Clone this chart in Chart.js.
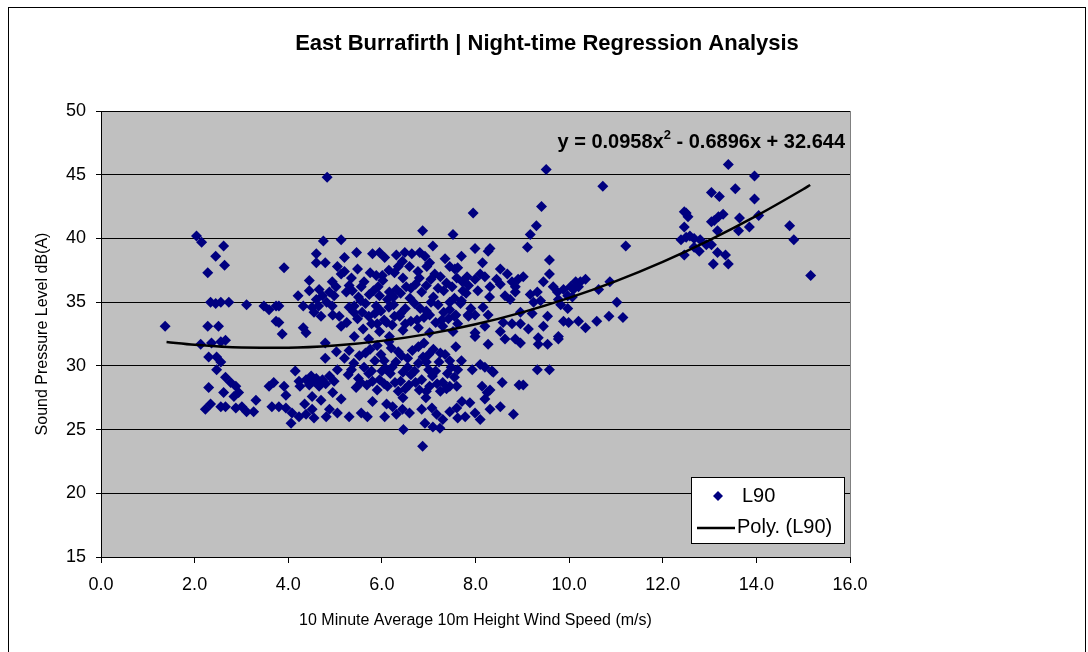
<!DOCTYPE html>
<html>
<head>
<meta charset="utf-8">
<script src="https://cdn.jsdelivr.net/npm/chart.js@4.4.1/dist/chart.umd.min.js"></script>
<style>
  html, body { margin: 0; padding: 0; background: #fff; }
  #wrap { width: 1088px; height: 652px; }
</style>
</head>
<body>
<div id="wrap"><canvas id="chart" width="1088" height="652"></canvas></div>
<script>
// [wind speed (m/s), L90 dB(A)]
const l90Readings = [
  [2.04,40.2],[2.15,39.7],[2.62,39.4],[2.45,38.6],[2.64,37.9],[2.28,37.3],
  [2.34,35.0],[2.45,34.9],[2.56,35.0],[2.73,35.0],[3.11,34.8],[3.48,34.7],[3.59,34.4],[3.74,34.7],
  [1.37,33.1],[2.28,33.1],[2.51,33.1],[3.74,33.5],
  [2.13,31.7],[2.36,31.8],[2.56,31.9],[2.66,32.0],
  [2.30,30.7],[2.47,30.7],[2.56,30.3],[2.47,29.7],
  [2.66,29.1],[2.77,28.7],[2.88,28.4],[2.94,27.9],[2.84,27.6],[2.30,28.3],[2.62,27.9],
  [2.23,26.6],[2.34,27.0],[2.56,26.8],[2.66,26.8],[2.88,26.7],[3.01,26.8],[3.11,26.4],[3.26,26.4],[3.31,27.3],
  [3.59,28.4],[3.69,28.7],[3.65,26.8],
  [4.83,44.8],[4.75,39.8],[5.13,39.9],[5.46,38.9],[5.80,38.8],[5.95,38.9],[6.06,38.5],[6.31,38.7],
  [4.60,38.8],[5.20,38.5],[3.91,37.7],[4.60,38.1],[4.79,38.1],[5.05,37.8],[5.13,37.2],[4.94,36.6],
  [4.45,36.7],[5.88,37.1],[6.01,37.1],[6.27,37.3],
  [4.21,35.5],[4.32,34.7],[4.66,36.0],[4.73,35.5],[4.60,35.2],[4.88,35.8],[4.98,35.5],
  [5.24,35.8],[5.37,35.9],[5.56,36.2],[5.73,35.6],[5.95,35.5],[6.16,35.8],[6.31,36.0],
  [4.51,34.6],[4.70,33.9],[4.94,34.7],[5.09,33.9],[5.13,33.1],
  [5.41,34.7],[5.58,34.2],[5.88,34.7],[6.10,33.4],[6.27,33.9],[5.78,33.3],
  [3.80,34.7],[3.80,33.4],[3.87,32.5],[4.32,33.0],[4.38,32.6],
  [5.41,32.3],[5.95,32.7],[6.16,32.3],[4.79,31.8],[5.03,31.1],[4.79,30.6],
  [5.05,29.7],[4.98,28.8],[4.88,29.2],
  [4.15,29.6],[4.23,28.8],[4.38,28.9],[4.49,29.2],[4.55,28.8],[4.66,28.4],[4.73,28.9],
  [3.91,28.4],[3.95,27.7],[4.51,27.6],[5.13,27.4],
  [3.80,26.8],[3.95,26.7],[4.08,26.3],[4.23,26.0],[4.38,26.2],[4.51,26.6],[4.55,25.9],[4.06,25.5],
  [4.81,26.0],[4.88,26.6],[5.05,26.3],[5.30,26.0],[5.56,26.3],[5.69,26.0],[6.06,26.0],[6.23,26.8],[6.31,26.2],
  [5.35,36.9],[5.62,36.6],[6.02,36.7],[6.45,36.9],[6.72,36.4],[7.05,36.8],[7.38,36.5],[7.72,36.6],
  [5.50,35.4],[5.82,35.9],[6.12,35.2],[6.40,35.7],[6.60,35.3],[6.85,35.8],[7.10,35.4],[7.32,35.9],[7.55,35.3],[7.80,35.7],
  [5.30,34.6],[5.65,34.9],[5.98,34.3],[6.25,34.8],[6.50,34.5],[6.70,34.9],[6.95,34.3],[7.20,34.8],[7.45,34.4],[7.68,34.9],
  [5.48,33.7],[5.72,33.9],[6.05,33.6],[6.38,33.9],[6.62,33.5],[6.90,33.8],[7.15,33.4],[7.42,33.7],[7.62,33.3],[7.85,33.9],
  [5.60,32.9],[6.45,32.8],[6.78,33.0],[7.02,32.6],[7.30,33.1],[7.52,32.7],
  [5.72,32.1],[6.15,31.9],[6.90,31.8],
  [5.30,31.2],[5.52,30.8],[5.75,31.3],[5.98,30.9],[6.20,31.4],[6.42,30.8],[6.65,31.2],[6.88,30.7],[7.10,31.3],[7.35,30.9],[7.58,31.5],
  [5.40,30.2],[5.62,29.9],[5.85,30.4],[6.08,29.8],[6.30,30.3],[6.55,29.9],[6.78,30.2],[7.00,29.7],[7.22,30.3],[7.48,29.9],[7.70,30.4],
  [5.28,29.3],[5.50,29.0],[5.72,29.4],[5.95,28.9],[6.18,29.4],[6.40,28.8],[6.62,29.3],[6.85,28.9],[7.08,29.2],[7.30,28.7],[7.55,29.1],
  [5.45,28.3],[5.68,28.5],[5.90,28.1],[6.12,28.4],[6.35,28.0],[6.58,28.5],[6.80,28.1],[7.02,28.4],[7.25,28.0],[7.45,28.4],
  [5.80,27.2],[6.10,27.0],[6.45,27.5],
  [5.20,37.4],[5.48,37.6],[5.75,37.3],[6.15,37.5],[6.35,37.8],[6.62,36.1],[6.95,36.3],[7.25,37.0],[7.60,36.9],
  [5.30,36.3],[5.55,35.1],[5.92,36.2],[6.25,35.4],[6.52,36.2],[6.80,36.9],[7.20,36.1],[7.45,35.0],[7.70,35.1],
  [5.40,34.2],[5.85,34.1],[6.15,34.6],[6.40,34.1],[6.82,34.5],[7.05,35.0],[7.32,34.2],[7.58,34.0],[7.90,34.5],
  [5.25,33.4],[5.90,33.3],[6.22,33.2],[6.50,33.3],[6.75,33.6],[7.02,34.0],[7.28,33.6],[7.55,33.9],
  [5.20,30.6],[5.65,31.0],[5.90,31.6],[6.05,30.4],[6.35,31.1],[6.55,30.6],[6.78,31.5],[7.00,30.9],[7.25,31.0],[7.45,30.4],
  [5.35,29.7],[5.78,29.6],[6.00,29.6],[6.22,29.9],[6.45,29.5],[6.70,29.6],[6.95,30.3],[7.15,29.6],[7.40,29.4],[7.62,29.7],
  [5.55,28.7],[5.80,28.8],[6.05,28.6],[6.28,28.7],[6.50,28.2],[6.72,28.7],[6.95,28.0],[7.18,28.6],[7.38,28.2],[7.60,28.4],
  [4.45,35.9],[4.55,34.2],[4.82,35.0],[4.65,34.7],[5.02,36.2],[4.95,34.0],
  [4.25,28.4],[4.45,28.5],[4.60,29.0],[4.80,28.6],[4.35,27.0],[4.70,27.3],[4.95,27.9],
  [7.85,36.3],[8.05,35.9],[8.30,35.4],[8.45,36.8],[8.15,38.1],[7.70,38.6],
  [7.95,42.0],[6.87,40.6],[7.52,40.3],[7.09,39.4],[7.99,39.2],[8.27,39.0],[8.31,39.2],
  [6.49,38.9],[6.64,38.8],[6.81,38.9],[6.92,38.6],[7.02,38.1],
  [6.44,38.2],[6.59,37.8],[6.77,37.4],[6.96,37.8],[7.13,37.2],
  [7.35,38.4],[7.45,37.8],[7.56,37.6],[7.62,37.7],
  [7.82,37.0],[7.99,36.8],[8.10,37.2],[8.20,37.0],[8.31,36.2],[8.53,37.6],[8.68,37.2],[8.78,36.6],[8.85,36.2],
  [8.53,36.4],[8.63,35.5],[8.74,35.2],[8.85,35.8],[8.91,36.8],[7.50,36.2],[7.73,35.9],
  [7.84,34.0],[7.99,34.0],[8.16,34.6],[8.27,34.0],[8.20,33.1],
  [7.99,32.6],[8.27,31.7],[7.99,32.3],
  [8.53,32.7],[8.63,32.1],[8.85,32.1],[8.78,33.3],[8.59,33.4],
  [7.93,29.7],[8.10,30.1],[8.20,29.9],[8.35,29.6],[8.38,29.5],
  [8.14,28.4],[8.31,28.1],[8.25,27.9],[8.57,28.7],[8.93,28.5],
  [6.94,27.5],[8.20,27.4],
  [6.44,26.6],[6.59,26.3],[6.85,26.6],[7.07,26.7],[7.17,26.2],[7.30,25.8],[7.45,26.4],[7.60,26.7],[7.71,27.2],[7.88,27.1],
  [6.92,25.5],[7.09,25.2],[7.24,25.1],[7.62,25.9],[7.78,26.0],[7.99,26.3],[8.10,25.8],[8.31,26.6],[8.53,26.8],[8.81,26.2],
  [6.46,25.0],[6.87,23.7],
  [9.51,45.4],[10.72,44.1],[9.41,42.5],[9.30,41.0],[9.17,40.3],[9.11,39.3],[11.21,39.4],[9.58,38.3],[9.58,37.2],[9.02,37.0],
  [9.45,36.6],[9.66,36.2],[9.75,35.8],[9.88,36.0],[10.03,36.2],[10.14,36.6],[10.24,36.6],[10.35,36.8],[10.20,36.2],[10.09,36.0],
  [9.17,35.6],[9.32,35.8],[9.24,35.0],[9.39,35.1],[9.77,35.2],[9.97,35.5],[10.07,35.4],[9.82,34.8],
  [10.63,36.0],[10.87,36.6],[11.02,35.0],
  [8.96,34.2],[9.21,34.1],[9.54,33.9],[9.97,34.5],
  [8.96,33.3],[9.13,32.9],[9.45,33.1],[9.88,33.5],[9.99,33.4],[10.20,33.5],[10.35,33.0],[10.59,33.5],[10.85,33.9],[11.15,33.8],
  [8.96,31.8],[9.34,32.2],[9.34,31.7],[9.54,31.7],[9.77,32.3],[9.77,32.1],
  [9.32,29.7],[9.58,29.7],[9.02,28.5],
  [13.40,45.8],[13.96,44.9],[13.55,43.9],[13.96,43.1],[13.04,43.6],[13.21,43.3],
  [12.46,42.1],[12.54,41.7],[12.50,42.0],[12.46,40.9],
  [13.29,41.9],[13.19,41.7],[13.10,41.4],[13.04,41.3],
  [13.64,41.6],[13.85,40.9],[14.05,41.8],[13.62,40.6],[13.17,40.6],
  [14.71,41.0],[14.80,39.9],[15.16,37.1],
  [12.39,39.9],[12.50,40.1],[12.58,40.2],[12.67,40.0],[12.80,39.9],[12.93,39.5],[13.04,39.5],
  [12.46,38.7],[12.67,39.3],[12.78,39.0],[13.17,38.9],[13.34,38.7],[13.08,38.0],[13.40,38.0]
];

// Poly. (L90) trend line
const trendX = [1.4, 2, 3, 4, 5, 6, 7, 8, 9, 10, 11, 12, 13, 14, 15, 15.15];
const trendY = [31.87, 31.65, 31.44, 31.42, 31.59, 31.96, 32.51, 33.26, 34.20, 35.33, 36.65, 38.16, 39.87, 41.77, 43.86, 44.19];

const chartTitle = 'East Burrafirth | Night-time Regression Analysis';
const eqMain = 'y = 0.0958x';
const eqSup = '2';
const eqRest = ' - 0.6896x + 32.644';
const FONT = '"Liberation Sans", Arial, sans-serif';

const excelLook = {
  id: 'excelLook',
  beforeDraw(chart) {
    const { ctx, chartArea: a } = chart;
    ctx.save();
    ctx.fillStyle = '#fff';
    ctx.fillRect(0, 0, chart.width, chart.height);
    ctx.strokeStyle = '#000';
    ctx.lineWidth = 1;
    ctx.strokeRect(8.5, 7.5, 1077, 700);
    ctx.fillStyle = '#c0c0c0';
    ctx.fillRect(a.left, a.top, a.right - a.left, a.bottom - a.top);
    ctx.strokeStyle = '#808080';
    ctx.beginPath();
    ctx.moveTo(Math.round(a.right) + 0.5, a.top);
    ctx.lineTo(Math.round(a.right) + 0.5, a.bottom);
    ctx.stroke();

    ctx.fillStyle = '#000';
    ctx.font = 'bold 22px ' + FONT;
    ctx.textAlign = 'center';
    ctx.textBaseline = 'middle';
    ctx.fillText(chartTitle, 547, 44);
    ctx.restore();
  },
  afterDraw(chart) {
    const { ctx } = chart;
    ctx.save();
    // regression equation
    ctx.fillStyle = '#000';
    ctx.textBaseline = 'alphabetic';
    ctx.textAlign = 'left';
    const big = 'bold 20px ' + FONT, small = 'bold 13px ' + FONT;
    ctx.font = big;
    const w1 = ctx.measureText(eqMain).width, w3 = ctx.measureText(eqRest).width;
    ctx.font = small;
    const w2 = ctx.measureText(eqSup).width;
    let x = 845 - (w1 + w2 + w3);
    const base = 148;
    ctx.font = big; ctx.fillText(eqMain, x, base); x += w1;
    ctx.font = small; ctx.fillText(eqSup, x, base - 9); x += w2;
    ctx.font = big; ctx.fillText(eqRest, x, base);

    // legend box
    ctx.fillStyle = '#fff';
    ctx.fillRect(691.5, 477.5, 153, 66);
    ctx.strokeStyle = '#000';
    ctx.lineWidth = 1;
    ctx.strokeRect(691.5, 477.5, 153, 66);
    ctx.fillStyle = '#000080';
    ctx.beginPath();
    ctx.moveTo(718, 491); ctx.lineTo(723, 496); ctx.lineTo(718, 501); ctx.lineTo(713, 496);
    ctx.closePath(); ctx.fill();
    ctx.strokeStyle = '#000';
    ctx.lineWidth = 2.5;
    ctx.beginPath(); ctx.moveTo(697, 528); ctx.lineTo(735, 528); ctx.stroke();
    ctx.fillStyle = '#000';
    ctx.font = '20px ' + FONT;
    ctx.textBaseline = 'middle';
    ctx.fillText('L90', 742, 496);
    ctx.fillText('Poly. (L90)', 737, 527);
    ctx.restore();
  }
};

new Chart(document.getElementById('chart'), {
  type: 'scatter',
  data: {
    datasets: [
      {
        label: 'Poly. (L90)',
        data: trendX.map((v, i) => ({ x: v, y: trendY[i] })),
        showLine: true,
        borderColor: '#000',
        borderWidth: 2.5,
        pointRadius: 0,
        cubicInterpolationMode: 'monotone',
        order: 0,
      },
      {
        label: 'L90',
        data: l90Readings.map(([wx, wy]) => ({ x: wx, y: wy })),
        pointStyle: 'rectRot',
        pointRadius: 5.5,
        borderWidth: 0,
        backgroundColor: '#000080',
        borderColor: '#000080',
        order: 1,
      },
    ],
  },
  options: {
    responsive: false,
    animation: false,
    events: [],
    layout: { padding: { left: 10, top: 111, right: 238, bottom: 0 } },
    plugins: { legend: { display: false }, tooltip: { enabled: false } },
    scales: {
      x: {
        type: 'linear', min: 0, max: 16,
        ticks: { stepSize: 2, callback: v => v.toFixed(1), color: '#000', font: { size: 18, family: FONT }, padding: 11, maxRotation: 0 },
        grid: { drawOnChartArea: false, drawTicks: true, tickLength: 6, color: '#000' },
        border: { color: '#000', width: 1 },
        title: { display: true, text: '10 Minute Average 10m Height Wind Speed (m/s)', color: '#000', font: { size: 16, family: FONT }, padding: { top: 0, bottom: 22 } },
        afterFit(s) { s.height = 652 - 557; },
      },
      y: {
        min: 15, max: 50,
        ticks: { stepSize: 5, color: '#000', font: { size: 18, family: FONT }, padding: 10 },
        grid: { color: '#000', tickLength: 5 },
        border: { color: '#000', width: 1 },
        title: { display: true, text: 'Sound Pressure Level dB(A)', color: '#000', font: { size: 16, family: FONT }, padding: { top: 23, bottom: 0 } },
        afterFit(s) { s.width = 101 - 10; },
      },
    },
  },
  plugins: [excelLook],
});
</script>
</body>
</html>
